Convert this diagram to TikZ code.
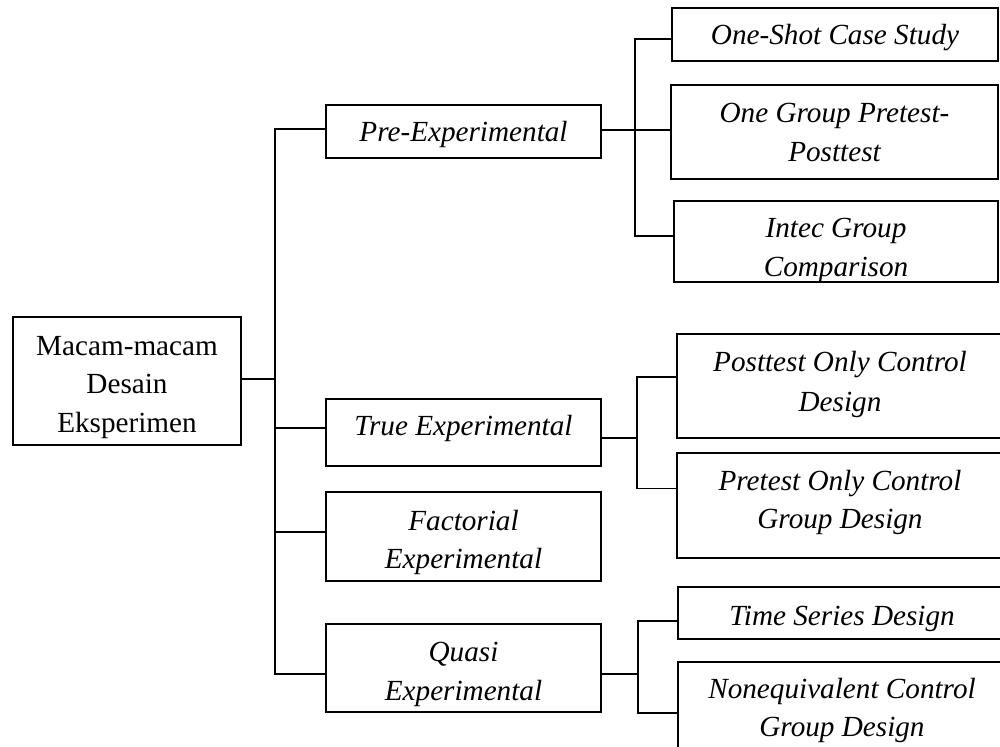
\documentclass[tikz,border=0pt]{standalone}
\usepackage{fontspec}
\setmainfont{Liberation Serif}
\newcommand\mlines[2]{\vtop{\baselineskip=#1\relax\halign{\hfil##\hfil\cr#2\crcr}}}
\tikzset{
  conn/.style={line width=1.8pt},
  box/.style={draw, line width=1.8pt, anchor=north west, inner sep=0pt, outer sep=0pt},
  lbl/.style={anchor=base, inner sep=0pt, font=\fontsize{29.2}{39}\selectfont\itshape},
}
\begin{document}
\begin{tikzpicture}[x=1pt,y=-1pt]
\clip (0,0) rectangle (1000,746);
\fill[white] (0,0) rectangle (1000,746);

% boxes
\node[box, minimum width=228pt, minimum height=128pt,
  path picture={\node[lbl, yshift=-38pt] (rootT) at (path picture bounding box.north) {\upshape\mlines{38.5pt}{Macam-macam\cr Desain\cr Eksperimen}};}]
  (root) at (13,317) {};
\node[box, minimum width=275pt, minimum height=53pt,
  path picture={\node[lbl, yshift=-36.5pt] (preT) at (path picture bounding box.north) {Pre-Experimental};}]
  (pre) at (326,105) {};
\node[box, minimum width=275pt, minimum height=67pt,
  path picture={\node[lbl, yshift=-36pt] (truT) at (path picture bounding box.north) {True Experimental};}]
  (tru) at (326,399) {};
\node[box, minimum width=275pt, minimum height=89pt,
  path picture={\node[lbl, yshift=-38pt] (facT) at (path picture bounding box.north) {\mlines{38.5pt}{Factorial\cr Experimental}};}]
  (fac) at (326,492) {};
\node[box, minimum width=275pt, minimum height=88pt,
  path picture={\node[lbl, yshift=-37pt] (quaT) at (path picture bounding box.north) {\mlines{39pt}{Quasi\cr Experimental}};}]
  (qua) at (326,624) {};

\node[box, minimum width=326pt, minimum height=53pt,
  path picture={\node[lbl, yshift=-37pt] (oscT) at (path picture bounding box.north) {One-Shot Case Study};}]
  (osc) at (672,8) {};
\node[box, minimum width=327pt, minimum height=94pt,
  path picture={\node[lbl, yshift=-38pt] (ogpT) at (path picture bounding box.north) {\mlines{39pt}{One Group Pretest-\cr Posttest}};}]
  (ogp) at (671,85) {};
\node[box, minimum width=324pt, minimum height=81pt,
  path picture={\node[lbl, yshift=-36.7pt] (itcT) at (path picture bounding box.north) {\mlines{39pt}{Intec Group\cr Comparison}};}]
  (itc) at (674,201) {};
\node[box, minimum width=326pt, minimum height=104pt,
  path picture={\node[lbl, yshift=-37.5pt] (posT) at (path picture bounding box.north) {\mlines{40pt}{Posttest Only Control\cr Design}};}]
  (pos) at (677,334) {};
\node[box, minimum width=326pt, minimum height=105pt,
  path picture={\node[lbl, yshift=-37pt] (prtT) at (path picture bounding box.north) {\mlines{38.5pt}{Pretest Only Control\cr Group Design}};}]
  (prt) at (677,453) {};
\node[box, minimum width=328pt, minimum height=52pt,
  path picture={\node[lbl, yshift=-38pt] (tsdT) at (path picture bounding box.north) {Time Series Design};}]
  (tsd) at (678,587) {};
\node[box, minimum width=328pt, minimum height=100pt,
  path picture={\node[lbl, yshift=-36pt] (necT) at (path picture bounding box.north) {\mlines{38.5pt}{Nonequivalent Control\cr Group Design}};}]
  (nec) at (678,662) {};

% junction columns
\coordinate (trunk) at (275,0);
\coordinate (b1) at (635,0);
\coordinate (b2) at (637,0);
\coordinate (b3) at (638,0);

% root to level 1
\coordinate (re) at ([yshift=2pt]root.east);
\coordinate (pw) at ([yshift=2.5pt]pre.west);
\coordinate (tw) at ([yshift=4.5pt]tru.west);
\coordinate (fw) at ([yshift=4.5pt]fac.west);
\coordinate (qw) at ([yshift=-6pt]qua.west);
\draw[conn] (re) -- (re -| trunk);
\draw[conn] (pw) -| (trunk |- qw) -- (qw);
\draw[conn] (tw) -- (tw -| trunk);
\draw[conn] (fw) -- (fw -| trunk);

% pre-experimental children
\coordinate (pe) at ([yshift=1.5pt]pre.east);
\coordinate (ow) at ([yshift=-4.5pt]osc.west);
\coordinate (gw) at ([yshift=2pt]ogp.west);
\coordinate (iw) at ([yshift=5.5pt]itc.west);
\draw[conn] (pe) -- (pe -| b1);
\draw[conn] (ow) -| (b1 |- iw) -- (iw);
\draw[conn] (gw) -- (gw -| b1);

% true experimental children
\coordinate (te) at ([yshift=-5.5pt]tru.east);
\coordinate (sw) at ([yshift=9pt]pos.west);
\coordinate (rw) at ([yshift=17pt]prt.west);
\draw[conn] (te) -- (te -| b2);
\draw[conn] (sw) -| (b2 |- rw) -- (rw);

% quasi experimental children
\coordinate (qe) at ([yshift=-6pt]qua.east);
\coordinate (aw) at ([yshift=-8pt]tsd.west);
\coordinate (nw) at ([yshift=-1pt]nec.west);
\draw[conn] (qe) -- (qe -| b3);
\draw[conn] (aw) -| (b3 |- nw) -- (nw);
\end{tikzpicture}
\end{document}
